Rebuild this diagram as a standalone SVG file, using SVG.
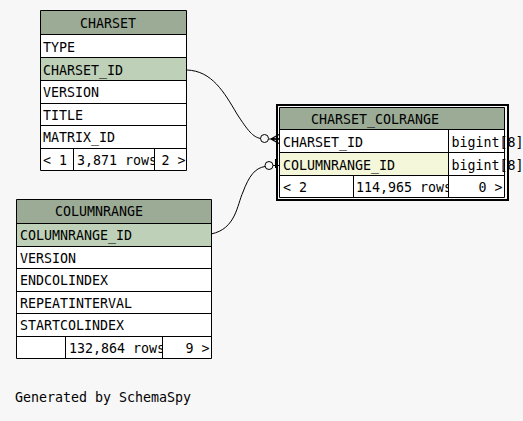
<svg xmlns="http://www.w3.org/2000/svg" width="523" height="421" viewBox="0 0 523 421">
<style>
text{font-family:"DejaVu Sans Mono","Liberation Mono",monospace;font-size:13.3px;fill:#000}
.hd{fill:#9bab96}
.pk{fill:#bed1b8}
.ix{fill:#f4f7da}
.w{fill:#fff}
.ln{stroke:#000;stroke-width:1;fill:none}
.cn{stroke:#000;stroke-width:1;fill:none}
</style>
<defs>
<clipPath id="c1"><rect x="73" y="148" width="81" height="23"/></clipPath>
<clipPath id="c2"><rect x="65" y="336" width="97" height="23"/></clipPath>
<clipPath id="c3"><rect x="353" y="175" width="95" height="23"/></clipPath>
</defs>
<rect width="523" height="421" fill="#f7f7f7"/>
<g id="charset">
<rect x="40.5" y="10.5" width="146" height="160" class="w"/>
<rect x="40.5" y="10.5" width="146" height="24" class="hd"/>
<rect x="40.5" y="57.5" width="146" height="23" class="pk"/>
<path class="ln" d="M40.5,10.5H186.5V170.5H40.5Z M40.5,34.5H186.5 M40.5,57.5H186.5 M40.5,80.5H186.5 M40.5,103.5H186.5 M40.5,125.5H186.5 M40.5,148.5H186.5 M73.5,148.5V170.5 M154.5,148.5V170.5"/>
<text x="80" y="28">CHARSET</text>
<text x="43" y="52">TYPE</text>
<text x="43" y="74.5">CHARSET_ID</text>
<text x="43" y="97">VERSION</text>
<text x="43" y="119.5">TITLE</text>
<text x="43" y="142">MATRIX_ID</text>
<text x="43" y="164.5">&lt; 1</text>
<text x="77" y="164.5" clip-path="url(#c1)">3,871 rows</text>
<text x="185.5" y="164.5" text-anchor="end">2 &gt;</text>
</g>
<g id="columnrange">
<rect x="16.5" y="199.5" width="195" height="159" class="w"/>
<rect x="16.5" y="199.5" width="195" height="24" class="hd"/>
<rect x="16.5" y="223.5" width="195" height="23" class="pk"/>
<path class="ln" d="M16.5,199.5H211.5V358.5H16.5Z M16.5,223.5H211.5 M16.5,246.5H211.5 M16.5,268.5H211.5 M16.5,291.5H211.5 M16.5,313.5H211.5 M16.5,336.5H211.5 M65.5,336.5V358.5 M162.5,336.5V358.5"/>
<text x="55" y="216">COLUMNRANGE</text>
<text x="20" y="240">COLUMNRANGE_ID</text>
<text x="20" y="262.5">VERSION</text>
<text x="20" y="285">ENDCOLINDEX</text>
<text x="20" y="307.5">REPEATINTERVAL</text>
<text x="20" y="330">STARTCOLINDEX</text>
<text x="69" y="352.5" clip-path="url(#c2)">132,864 rows</text>
<text x="209.5" y="352.5" text-anchor="end">9 &gt;</text>
</g>
<g id="charset_colrange">
<rect x="277" y="105" width="231" height="95" fill="none" stroke="#000" stroke-width="2"/>
<rect x="279.5" y="107.5" width="225" height="90" class="w"/>
<rect x="279.5" y="107.5" width="225" height="22" class="hd"/>
<rect x="279.5" y="152.5" width="169" height="23" class="ix"/>
<path class="ln" d="M279.5,107.5H504.5V197.5H279.5Z M279.5,129.5H504.5 M279.5,152.5H504.5 M279.5,175.5H504.5 M448.5,129.5V197.5 M353.5,175.5V197.5"/>
<text x="311" y="124">CHARSET_COLRANGE</text>
<text x="283" y="147">CHARSET_ID</text>
<text x="451.5" y="147">bigint[8]</text>
<text x="283" y="169.5">COLUMNRANGE_ID</text>
<text x="451.5" y="169.5">bigint[8]</text>
<text x="283" y="192">&lt; 2</text>
<text x="356" y="192" clip-path="url(#c3)">114,965 rows</text>
<text x="502.5" y="192" text-anchor="end">0 &gt;</text>
</g>
<g id="connectors">
<path class="cn" d="M187,70 C212,71 224,92 237,114 C248,131 253,137 260.5,138.5"/>
<circle cx="264.5" cy="138.5" r="4" fill="none" stroke="#000"/>
<path class="cn" d="M268.5,139H279"/>
<path d="M271,139L279,134.5M271,139L279,143.5M271,139H279" stroke="#000" stroke-width="1.4" fill="none"/>
<path class="cn" d="M211,234 C236,229 237,205 243,192 C249,176 255,168 265,166.5"/>
<circle cx="269" cy="165.5" r="4" fill="none" stroke="#000"/>
<path class="cn" d="M273,165.5H279"/>
<rect x="275" y="159" width="3" height="9" fill="#000"/>
</g>
<text x="15" y="402">Generated by SchemaSpy</text>
</svg>
